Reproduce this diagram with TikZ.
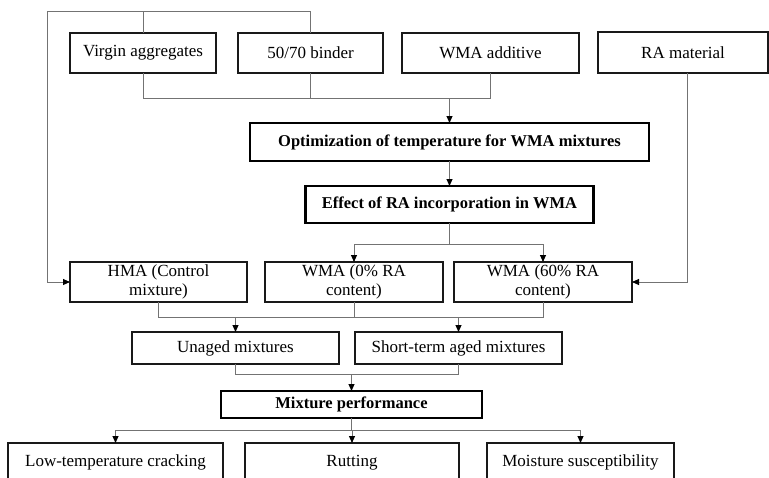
\documentclass[tikz,border=0pt]{standalone}
\usepackage{fontspec}
\setmainfont{Liberation Serif}
\usetikzlibrary{arrows.meta}
\tikzset{
  box/.style={draw=black!90, line width=1.3pt, inner sep=0pt, outer sep=0pt, align=center,
    font=\fontsize{17}{19}\selectfont},
  thickbox/.style={box, draw=black, line width=2.2pt, font=\fontsize{16.5}{19}\selectfont\bfseries},
  conn/.style={draw=black!55, line width=0.9pt},
  arr/.style={conn, -{Triangle[length=7pt,width=6pt,color=black]}},
}
\begin{document}
\begin{tikzpicture}[x=1pt,y=-1pt]
\clip (0,0) rectangle (769,477);
% top row
\node[box, minimum width=146pt, minimum height=40pt] (va) at (143,53) {Virgin aggregates};
\node[box, minimum width=145pt, minimum height=40pt] (bd) at (310.5,53) {50/70 binder};
\node[box, minimum width=177pt, minimum height=40pt] (wa) at (490.5,53) {WMA additive};
\node[box, minimum width=170pt, minimum height=41pt] (ra) at (683,52.5) {RA material};
% process
\node[thickbox, minimum width=399pt, minimum height=38pt] (opt) at (449.5,142) {Optimization of temperature for WMA mixtures};
\node[thickbox, minimum width=288pt, minimum height=37pt] (eff) at (449.5,204.5) {Effect of RA incorporation in WMA};
% mixtures
\node[box, minimum width=177pt, minimum height=40pt] (hma) at (158.5,282) {HMA (Control\\mixture)};
\node[box, minimum width=178pt, minimum height=40pt] (w0) at (354,282) {WMA (0\% RA\\content)};
\node[box, minimum width=178pt, minimum height=40pt] (w60) at (543,282) {WMA (60\% RA\\content)};
% ageing
\node[box, minimum width=207pt, minimum height=32pt] (un) at (235.5,348) {Unaged mixtures};
\node[box, minimum width=207pt, minimum height=32pt] (st) at (458.5,348) {Short-term aged mixtures};
% performance
\node[thickbox, minimum width=261pt, minimum height=27pt] (mp) at (351.5,404.5) {Mixture performance};
\node[box, minimum width=215pt, minimum height=42pt] (lt) at (115.5,464) {\raisebox{7pt}{Low-temperature cracking}};
\node[box, minimum width=214pt, minimum height=42pt] (rt) at (352,464) {\raisebox{7pt}{Rutting}};
\node[box, minimum width=187pt, minimum height=42pt] (ms) at (580.5,464) {\raisebox{7pt}{Moisture susceptibility}};
% junction coordinates
\coordinate (topL) at (47,11);
\coordinate (j1) at (449.5,98);
\coordinate (j2) at (449.5,244);
\coordinate (j3) at (350,317);
\coordinate (j4) at (350,374);
\coordinate (j5) at (350,430);
% connectors
\draw[arr] (bd.north) |- (topL) |- (hma.west);
\draw[conn] (va.north) -- (va.north |- topL);
\draw[conn] (va.south) |- (wa.south |- j1) -- (wa.south);
\draw[conn] (bd.south) -- (bd.south |- j1);
\draw[arr] (j1) -- (opt.north);
\draw[arr] (opt.south) -- (eff.north);
\draw[conn] (eff.south) -- (j2);
\draw[arr] (j2) -| (w0.north);
\draw[arr] (j2) -| (w60.north);
\draw[arr] ([xshift=4pt]ra.south) |- (w60.east);
\draw[conn] (hma.south) |- (w60.south |- j3) -- (w60.south);
\draw[conn] (w0.south) -- (w0.south |- j3);
\draw[arr] (un.north |- j3) -- (un.north);
\draw[arr] (st.north |- j3) -- (st.north);
\draw[conn] (un.south) |- (st.south |- j4) -- (st.south);
\draw[arr] (mp.north |- j4) -- (mp.north);
\draw[conn] (mp.south) -- (mp.south |- j5);
\draw[conn] (lt.north |- j5) -- (ms.north |- j5);
\draw[arr] (lt.north |- j5) -- (lt.north);
\draw[arr] (rt.north |- j5) -- (rt.north);
\draw[arr] (ms.north |- j5) -- (ms.north);
\end{tikzpicture}
\end{document}
